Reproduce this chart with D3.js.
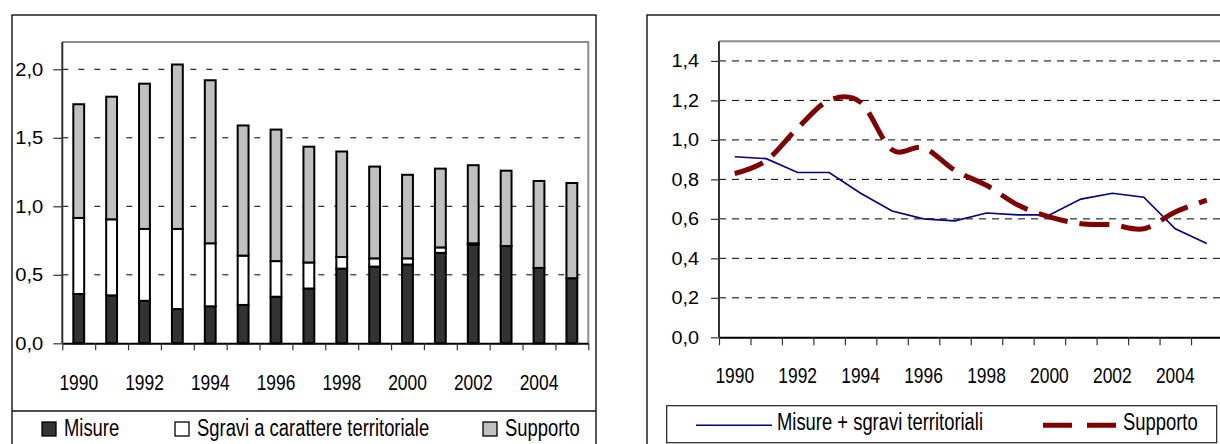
<!DOCTYPE html>
<html>
<head>
<meta charset="utf-8">
<script src="https://cdn.jsdelivr.net/npm/d3@7"></script>
<style>
  body { margin: 0; background: #fff; }
  svg { display: block; }
  text { font-family: "Liberation Sans", Arial, Helvetica, sans-serif; fill: #000; }
</style>
</head>
<body>
<svg id="chart" width="1220" height="444"></svg>
<script>
// Anni della serie
const years = [1990, 1991, 1992, 1993, 1994, 1995, 1996, 1997,
               1998, 1999, 2000, 2001, 2002, 2003, 2004, 2005];
const yearLabels = [1990, 1992, 1994, 1996, 1998, 2000, 2002, 2004];

// Componenti (in % del PIL)
const misure   = [0.36, 0.35, 0.31, 0.25, 0.27, 0.28, 0.34, 0.40,
                  0.545, 0.56, 0.575, 0.66, 0.72, 0.71, 0.55, 0.475];
const sgravi   = [0.555, 0.555, 0.525, 0.585, 0.46, 0.36, 0.26, 0.19,
                  0.085, 0.06, 0.045, 0.04, 0.01, 0, 0, 0];
const supporto = [0.83, 0.895, 1.06, 1.20, 1.19, 0.95, 0.96, 0.845,
                  0.77, 0.67, 0.61, 0.575, 0.57, 0.55, 0.635, 0.695];

const barTicks  = [0, 0.5, 1.0, 1.5, 2.0];
const lineTicks = [0, 0.2, 0.4, 0.6, 0.8, 1.0, 1.2, 1.4];

const barKeys    = ["misure", "sgravi", "supporto"];
const barLegend  = ["Misure", "Sgravi a carattere territoriale", "Supporto"];
const lineLegend = ["Misure + sgravi territoriali", "Supporto"];

const fmt = d3.formatLocale({ decimal: ",", thousands: ".", grouping: [3], currency: ["", "€"] }).format(".1f");

const svg = d3.select("#chart");

// Narrow/widen text to a given fraction of its natural width
function fitText(sel, factor) {
  sel.each(function () {
    const w = this.getComputedTextLength();
    d3.select(this).attr("textLength", w * factor).attr("lengthAdjust", "spacingAndGlyphs");
  });
}

/* ---------------- Grafico a barre impilate ---------------- */
{
  const g = svg.append("g");
  const L = 62.3, R = 588.3, T = 41.9, B = 343.3;

  // cornice esterna e separatore della legenda
  g.append("rect").attr("x", 12).attr("y", 15).attr("width", 584).attr("height", 460)
    .attr("fill", "none").attr("stroke", "#111").attr("stroke-width", 1.4);
  g.append("line").attr("x1", 12).attr("x2", 596).attr("y1", 411).attr("y2", 411)
    .attr("stroke", "#111").attr("stroke-width", 1.4);

  const x = d3.scaleBand().domain(years).range([L, R]).padding(0);
  const y = d3.scaleLinear().domain([0, 2.2]).range([B, T]);

  // griglia tratteggiata
  g.append("g").selectAll("line").data(barTicks.filter(d => d > 0)).join("line")
    .attr("x1", L).attr("x2", R).attr("y1", d => y(d)).attr("y2", d => y(d))
    .attr("stroke", "#000").attr("stroke-width", 1).attr("stroke-dasharray", "6,10");

  // bordo area del grafico (alto e destra)
  g.append("path").attr("d", `M${L},${T}H${R}V${B}`)
    .attr("fill", "none").attr("stroke", "#8c8c8c").attr("stroke-width", 2);

  // barre
  const rows = years.map((yr, i) => ({ year: yr, misure: misure[i], sgravi: sgravi[i], supporto: supporto[i] }));
  const stacked = d3.stack().keys(barKeys)(rows);
  const fills = { misure: "#333333", sgravi: "#ffffff", supporto: "#c0c0c0" };
  const bw = x.bandwidth() * 0.33;
  g.append("g").selectAll("g").data(stacked).join("g")
    .attr("fill", d => fills[d.key])
    .selectAll("rect").data(d => d.filter(s => s[1] - s[0] > 0)).join("rect")
    .attr("x", d => x(d.data.year) + (x.bandwidth() - bw) / 2)
    .attr("width", bw)
    .attr("y", d => y(d[1]))
    .attr("height", d => y(d[0]) - y(d[1]))
    .attr("stroke", "#000").attr("stroke-width", 2);

  // asse Y
  const yAxis = g.append("g").attr("transform", `translate(${L},0)`)
    .call(d3.axisLeft(y).tickValues(barTicks).tickFormat(fmt).tickSize(9).tickPadding(10).tickSizeOuter(0));
  yAxis.select(".domain").attr("d", `M0,${T}V${B}`).attr("stroke", "#333").attr("stroke-width", 2);
  yAxis.selectAll(".tick line").attr("stroke", "#333").attr("stroke-width", 1.2);
  yAxis.selectAll("text").attr("font-size", 18).call(fitText, 1.12);

  // asse X: tacche ai confini delle categorie
  const xt = d3.scaleLinear().domain([years[0], years[years.length - 1] + 1]).range([L, R]);
  const xAxis = g.append("g").attr("transform", `translate(0,${B})`)
    .call(d3.axisBottom(xt).tickValues(d3.range(years[0], years[years.length - 1] + 2)).tickFormat("").tickSize(7).tickSizeOuter(0));
  xAxis.select(".domain").attr("stroke", "#000").attr("stroke-width", 2);
  xAxis.selectAll(".tick line").attr("stroke", "#333").attr("stroke-width", 1.2);

  g.append("g").selectAll("text").data(yearLabels).join("text")
    .attr("x", d => x(d) + x.bandwidth() / 2).attr("y", B + 39).attr("dy", "0.35em")
    .attr("text-anchor", "middle").attr("font-size", 22).text(d => d)
    .call(fitText, 0.79);

  // legenda
  const legX = [42, 175, 483];
  const leg = g.append("g").selectAll("g").data(barKeys).join("g")
    .attr("transform", (d, i) => `translate(${legX[i]},0)`);
  leg.append("rect").attr("x", 0).attr("y", 422).attr("width", 14).attr("height", 14)
    .attr("fill", d => fills[d]).attr("stroke", "#000").attr("stroke-width", 1.3);
  leg.append("text").attr("x", 22).attr("y", 436).attr("font-size", 23)
    .text((d, i) => barLegend[i]).call(fitText, 0.8);
}

/* ---------------- Grafico a linee ---------------- */
{
  const g = svg.append("g");
  const L = 719, R = 1222.5, T = 41.2, B = 337.3;

  g.append("rect").attr("x", 647).attr("y", 15).attr("width", 620).attr("height", 460)
    .attr("fill", "none").attr("stroke", "#111").attr("stroke-width", 1.4);

  const x = d3.scaleBand().domain(years).range([L, R]).padding(0);
  const y = d3.scaleLinear().domain([0, 1.5]).range([B, T]);

  g.append("g").selectAll("line").data(lineTicks.filter(d => d > 0)).join("line")
    .attr("x1", L).attr("x2", R).attr("y1", d => y(d)).attr("y2", d => y(d))
    .attr("stroke", "#000").attr("stroke-width", 1).attr("stroke-dasharray", "7,6");

  g.append("path").attr("d", `M${L},${T}H${R}V${B}`)
    .attr("fill", "none").attr("stroke", "#8c8c8c").attr("stroke-width", 2);

  const yAxis = g.append("g").attr("transform", `translate(${L},0)`)
    .call(d3.axisLeft(y).tickValues(lineTicks).tickFormat(fmt).tickSize(8).tickPadding(12).tickSizeOuter(0));
  yAxis.select(".domain").attr("d", `M0,${T}V${B}`).attr("stroke", "#333").attr("stroke-width", 2);
  yAxis.selectAll(".tick line").attr("stroke", "#333").attr("stroke-width", 1.2);
  yAxis.selectAll("text").attr("font-size", 18).call(fitText, 1.1);

  const xt = d3.scaleLinear().domain([years[0], years[years.length - 1] + 1]).range([L, R]);
  const xAxis = g.append("g").attr("transform", `translate(0,${B})`)
    .call(d3.axisBottom(xt).tickValues(d3.range(years[0], years[years.length - 1] + 2)).tickFormat("").tickSize(8).tickSizeOuter(0));
  xAxis.select(".domain").attr("stroke", "#000").attr("stroke-width", 2);
  xAxis.selectAll(".tick line").attr("stroke", "#333").attr("stroke-width", 1.2);

  g.append("g").selectAll("text").data(yearLabels).join("text")
    .attr("x", d => x(d) + x.bandwidth() / 2).attr("y", B + 38).attr("dy", "0.35em")
    .attr("text-anchor", "middle").attr("font-size", 22).text(d => d)
    .call(fitText, 0.79);

  const cx = d => x(d) + x.bandwidth() / 2;
  const misureSgravi = misure.map((m, i) => m + sgravi[i]);

  const lineStraight = d3.line().x((d, i) => cx(years[i])).y(d => y(d));
  const lineSmooth = d3.line().x((d, i) => cx(years[i])).y(d => y(d)).curve(d3.curveCardinal.tension(0));

  g.append("path").datum(misureSgravi).attr("d", lineStraight)
    .attr("fill", "none").attr("stroke", "#000080").attr("stroke-width", 1.6);
  g.append("path").datum(supporto).attr("d", lineSmooth)
    .attr("fill", "none").attr("stroke", "#800000").attr("stroke-width", 5)
    .attr("stroke-dasharray", "30,12");

  // legenda
  g.append("rect").attr("x", 666.7).attr("y", 405.7).attr("width", 550).attr("height", 37)
    .attr("fill", "#fff").attr("stroke", "#222").attr("stroke-width", 1.2);
  g.append("line").attr("x1", 696).attr("x2", 772).attr("y1", 425.3).attr("y2", 425.3)
    .attr("stroke", "#000080").attr("stroke-width", 1.6);
  g.append("text").attr("x", 777).attr("y", 430).attr("font-size", 23)
    .text(lineLegend[0]).call(fitText, 0.8);
  g.append("line").attr("x1", 1043).attr("x2", 1116).attr("y1", 425.3).attr("y2", 425.3)
    .attr("stroke", "#800000").attr("stroke-width", 5).attr("stroke-dasharray", "29,15");
  g.append("text").attr("x", 1123).attr("y", 430).attr("font-size", 23)
    .text(lineLegend[1]).call(fitText, 0.8);
}
</script>
</body>
</html>
